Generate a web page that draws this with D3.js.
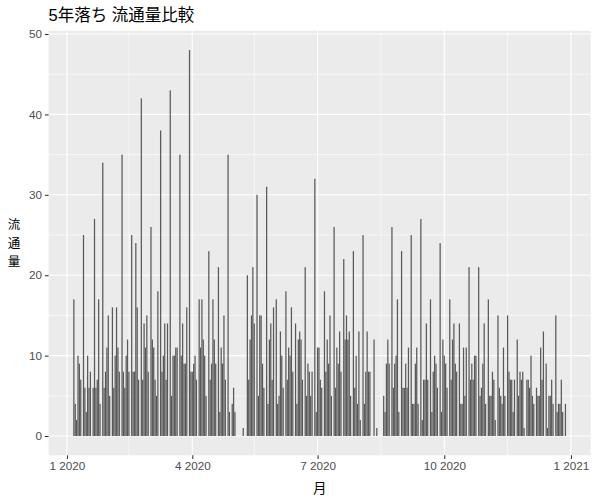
<!DOCTYPE html>
<html><head><meta charset="utf-8">
<script src="https://cdn.jsdelivr.net/npm/d3@7"></script>
<style>body{margin:0;background:#fff}svg{display:block}</style>
</head><body><svg id="c" width="600" height="500"></svg>
<script>
const title = "5年落ち 流通量比較";
const xTitle = "月";
const yTitle = ["流","通","量"];
// Monday of each week (Mon-Sat values, null = no trade)
const weekMondays = ["2020-01-06","2020-01-13","2020-01-20","2020-01-27","2020-02-03","2020-02-10","2020-02-17","2020-02-24",
"2020-03-02","2020-03-09","2020-03-16","2020-03-23","2020-03-30","2020-04-06","2020-04-13","2020-04-20","2020-04-27",
"2020-05-04","2020-05-11","2020-05-18","2020-05-25","2020-06-01","2020-06-08","2020-06-15","2020-06-22","2020-06-29",
"2020-07-06","2020-07-13","2020-07-20","2020-07-27","2020-08-03","2020-08-10","2020-08-17","2020-08-24","2020-08-31",
"2020-09-07","2020-09-14","2020-09-21","2020-09-28","2020-10-05","2020-10-12","2020-10-19","2020-10-26","2020-11-02",
"2020-11-09","2020-11-16","2020-11-23","2020-11-30","2020-12-07","2020-12-14","2020-12-21","2020-12-28"];
const weekValues = [
[17,4,2,10,9,7],[25,6,3,10,6,8],[6,27,6,7,17,4],[34,6,8,11,15,5],[16,6,10,16,11,8],[35,8,6,10,12,8],[25,8,8,24,16,7],[42,7,14,11,15,8],
[26,12,11,7,5,18],[38,8,10,14,7,14],[43,5,10,10,11,11],[35,10,14,9,9,16],[48,8,8,9,10,7],[17,11,17,12,10,5],[23,7,9,17,12,9],[21,3,11,9,15,7],[35,3,null,4,6,3],
[null,null,null,null,1,null],[20,7,12,15,21,14],[30,5,15,15,9,6],[31,4,12,14,7,16],[17,4,5,13,10,6],[18,7,11,10,16,8],[14,4,12,13,12,7],[21,5,9,8,5,8],[32,3,11,11,7,6],
[18,8,12,9,15,5],[26,6,11,9,13,8],[22,12,15,12,13,5],[23,6,10,4,13,2],[25,4,8,13,8,8],[null,12,null,1,null,null],[null,5,3,9,12,9],[26,6,9,10,17,3],[23,6,6,9,6,11],
[25,4,4,9,11,4],[27,2,7,7,14,7],[17,3,8,10,9,6],[24,3,12,10,9,6],[17,7,12,14,9,8],[14,4,4,11,5,11],[21,7,9,7,10,10],[21,5,6,9,14,4],[17,5,5,8,7,2],
[15,6,5,4,11,5],[15,8,7,7,3,7],[12,5,8,7,8,1],[7,7,6,10,5,4],[6,5,5,11,7,13],[9,1,5,5,7,4],[15,3,4,4,7,3],[4,null,null,null,null,null]];
const xTicks = ["2020-01-01","2020-04-01","2020-07-01","2020-10-01","2021-01-01"];
const xMinor = ["2020-02-15","2020-05-16","2020-08-16","2020-11-16"];
const yTicks = [0,10,20,30,40,50];
const yMinor = [5,15,25,35,45];

const parse = d3.utcParse("%Y-%m-%d");
const data = [];
weekMondays.forEach((m,i)=>{
  const mon = parse(m);
  weekValues[i].forEach((v,j)=>{ if(v!==null) data.push({date:d3.utcDay.offset(mon,j), value:v}); });
});

const svg = d3.select("#c");
const L=48.6, R=590.7, T=30.8, B=455.3;
const DAY=86400000;
const minD = d3.min(data,d=>d.date).getTime()-0.45*DAY;
const maxD = d3.max(data,d=>d.date).getTime()+0.45*DAY;
const span = maxD-minD;
const x = d3.scaleUtc().domain([new Date(minD-0.05*span), new Date(maxD+0.05*span)]).range([L,R]);
const y = d3.scaleLinear().domain([-2.4,50.4]).range([B,T]);

svg.append("rect").attr("x",L).attr("y",T).attr("width",R-L).attr("height",B-T).attr("fill","#EBEBEB");
const g = svg.append("g");
g.selectAll(".ym").data(yMinor).join("line").attr("x1",L).attr("x2",R).attr("y1",d=>y(d)).attr("y2",d=>y(d)).attr("stroke","#fff").attr("stroke-width",0.55);
g.selectAll(".xm").data(xMinor.map(parse)).join("line").attr("x1",d=>x(d)).attr("x2",d=>x(d)).attr("y1",T).attr("y2",B).attr("stroke","#fff").attr("stroke-width",0.55);
g.selectAll(".yM").data(yTicks).join("line").attr("x1",L).attr("x2",R).attr("y1",d=>y(d)).attr("y2",d=>y(d)).attr("stroke","#fff").attr("stroke-width",1.1);
g.selectAll(".xM").data(xTicks.map(parse)).join("line").attr("x1",d=>x(d)).attr("x2",d=>x(d)).attr("y1",T).attr("y2",B).attr("stroke","#fff").attr("stroke-width",1.1);

svg.append("g").selectAll("rect").data(data).join("rect")
  .attr("x",d=>x(new Date(d.date.getTime()-0.45*DAY)))
  .attr("width",d=>x(new Date(d.date.getTime()+0.45*DAY))-x(new Date(d.date.getTime()-0.45*DAY)))
  .attr("y",d=>y(d.value)).attr("height",d=>y(0)-y(d.value))
  .attr("fill","#595959");

const font = "'Liberation Sans', Arial, 'Noto Sans CJK JP', sans-serif";
const xAxis = d3.axisBottom(x).tickValues(xTicks.map(parse)).tickFormat(d3.utcFormat("%-m %Y")).tickSize(3.67).tickPadding(2.5);
const ga = svg.append("g").attr("transform",`translate(0,${B})`).call(xAxis);
const yAxis = d3.axisLeft(y).tickValues(yTicks).tickSize(3.67).tickPadding(2.9);
const gb = svg.append("g").attr("transform",`translate(${L},0)`).call(yAxis);
[ga,gb].forEach(a=>{
  a.select(".domain").remove();
  a.selectAll(".tick line").attr("stroke","#333333").attr("stroke-width",1.07);
  a.selectAll(".tick text").attr("fill","#4D4D4D").attr("font-size","11.7px").attr("font-family",font);
});

svg.append("text").attr("x",L).attr("y",21).attr("font-size","16.5px").attr("font-family","'Liberation Sans','Noto Sans CJK JP',sans-serif").attr("fill","#000").text(title);
svg.append("text").attr("x",(L+R)/2).attr("y",493).attr("text-anchor","middle").attr("font-size","13.5px").attr("font-family","'Noto Sans CJK JP',sans-serif").attr("fill","#000").text(xTitle);
const step = 18.2;
svg.append("g").selectAll("text").data(yTitle).join("text")
  .attr("x",14).attr("y",(d,i)=>(T+B)/2 + (i-1)*step + 4.5)
  .attr("text-anchor","middle").attr("font-size","12.5px").attr("font-family","'Noto Sans CJK JP',sans-serif").attr("fill","#000").text(d=>d);
</script></body></html>
